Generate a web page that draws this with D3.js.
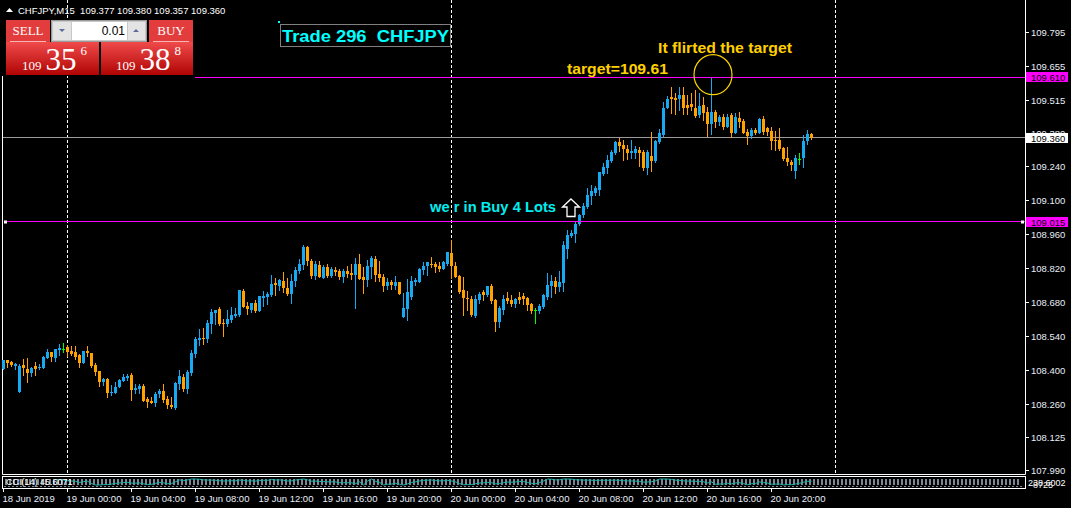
<!DOCTYPE html>
<html>
<head>
<meta charset="utf-8">
<script src="https://cdn.jsdelivr.net/npm/d3@7"></script>
<style>
  body { margin: 0; background: #000; overflow: hidden; }
  svg { display: block; }
</style>
</head>
<body>
<script>
// ---- data (CHFJPY M15) ----
const symbol = "CHFJPY";
const period = "M15";
const firstBar = new Date(2019, 5, 18, 20, 0);
const barMinutes = 15;

const openPrices = [
  108.409,108.445,108.437,108.422,108.314,108.424,108.408,108.393,108.420,108.413,
  108.412,108.454,108.478,108.454,108.486,108.492,108.498,108.483,108.478,108.465,
  108.432,108.483,108.474,108.424,108.400,108.354,108.367,108.312,108.310,108.334,
  108.360,108.369,108.383,108.320,108.327,108.338,108.286,108.277,108.269,108.303,
  108.317,108.286,108.261,108.246,108.346,108.375,108.325,108.393,108.470,108.527,
  108.537,108.533,108.595,108.639,108.655,108.597,108.592,108.611,108.628,108.630,
  108.729,108.669,108.650,108.678,108.648,108.700,108.704,108.713,108.762,108.751,
  108.770,108.743,108.717,108.772,108.812,108.836,108.911,108.853,108.791,108.836,
  108.783,108.828,108.792,108.817,108.812,108.787,108.812,108.803,108.795,108.840,
  108.787,108.775,108.828,108.861,108.799,108.787,108.750,108.766,108.750,108.766,
  108.622,108.655,108.704,108.766,108.767,108.814,108.830,108.842,108.842,108.831,
  108.819,108.842,108.886,108.833,108.790,108.735,108.702,108.698,108.625,108.691,
  108.724,108.712,108.749,108.691,108.602,108.650,108.701,108.691,108.675,108.705,
  108.708,108.700,108.675,108.650,108.647,108.664,108.705,108.750,108.770,108.746,
  108.764,108.904,108.957,108.963,109.005,109.042,109.076,109.120,109.131,109.145,
  109.213,109.234,109.266,109.299,109.344,109.329,109.316,109.296,109.299,109.312,
  109.301,109.234,109.285,109.266,109.344,109.371,109.485,109.527,109.525,109.520,
  109.536,109.495,109.498,109.485,109.454,109.495,109.465,109.419,109.465,109.426,
  109.447,109.406,109.454,109.381,109.440,109.429,109.385,109.367,109.392,109.381,
  109.436,109.399,109.389,109.351,109.351,109.319,109.275,109.261,109.224,109.272,
  109.278,109.348,109.377
];
const highPrices = [
  108.445,108.445,108.441,108.434,108.427,108.449,108.453,108.416,108.437,108.427,
  108.461,108.490,108.478,108.490,108.511,108.515,108.507,108.503,108.503,108.470,
  108.482,108.503,108.474,108.431,108.400,108.372,108.372,108.342,108.354,108.367,
  108.386,108.387,108.390,108.347,108.346,108.346,108.291,108.294,108.313,108.325,
  108.346,108.295,108.292,108.354,108.404,108.386,108.402,108.485,108.540,108.573,
  108.577,108.610,108.655,108.651,108.663,108.612,108.651,108.663,108.659,108.733,
  108.737,108.684,108.678,108.692,108.709,108.731,108.726,108.795,108.781,108.780,
  108.808,108.783,108.799,108.827,108.861,108.919,108.915,108.860,108.853,108.851,
  108.836,108.840,108.827,108.827,108.820,108.820,108.832,108.840,108.865,108.882,
  108.828,108.857,108.873,108.873,108.853,108.799,108.783,108.775,108.791,108.766,
  108.721,108.779,108.791,108.783,108.825,108.847,108.849,108.870,108.849,108.849,
  108.852,108.891,108.939,108.849,108.793,108.785,108.728,108.709,108.712,108.724,
  108.733,108.750,108.757,108.698,108.668,108.712,108.724,108.712,108.701,108.723,
  108.722,108.705,108.680,108.661,108.675,108.716,108.804,108.794,108.788,108.811,
  108.935,108.980,108.980,109.014,109.048,109.090,109.152,109.165,109.161,109.218,
  109.257,109.289,109.310,109.348,109.358,109.351,109.330,109.351,109.326,109.323,
  109.310,109.310,109.385,109.351,109.395,109.506,109.533,109.568,109.543,109.571,
  109.571,109.536,109.543,109.557,109.543,109.529,109.488,109.612,109.474,109.454,
  109.457,109.457,109.461,109.461,109.468,109.436,109.395,109.402,109.399,109.440,
  109.450,109.406,109.406,109.389,109.399,109.323,109.323,109.268,109.289,109.296,
  109.371,109.392,109.380
];
const lowPrices = [
  108.409,108.417,108.420,108.409,108.314,108.383,108.356,108.380,108.383,108.408,
  108.412,108.454,108.442,108.442,108.464,108.478,108.461,108.464,108.449,108.417,
  108.432,108.463,108.416,108.383,108.338,108.342,108.292,108.302,108.310,108.334,
  108.360,108.364,108.281,108.310,108.310,108.277,108.253,108.269,108.257,108.294,
  108.273,108.248,108.248,108.244,108.327,108.317,108.310,108.384,108.457,108.507,
  108.511,108.520,108.556,108.595,108.589,108.545,108.586,108.603,108.621,108.628,
  108.663,108.634,108.641,108.643,108.648,108.669,108.677,108.707,108.713,108.733,
  108.725,108.713,108.681,108.751,108.803,108.820,108.838,108.783,108.779,108.787,
  108.783,108.787,108.787,108.795,108.779,108.766,108.787,108.779,108.659,108.779,
  108.721,108.750,108.783,108.770,108.770,108.729,108.737,108.737,108.737,108.717,
  108.622,108.610,108.696,108.754,108.767,108.801,108.794,108.826,108.808,108.812,
  108.819,108.836,108.781,108.788,108.719,108.630,108.650,108.625,108.620,108.680,
  108.691,108.708,108.680,108.565,108.579,108.636,108.680,108.667,108.664,108.680,
  108.675,108.650,108.639,108.598,108.639,108.661,108.698,108.705,108.719,108.730,
  108.730,108.863,108.950,108.932,109.000,109.032,109.069,109.087,109.124,109.124,
  109.207,109.216,109.261,109.293,109.307,109.268,109.271,109.279,109.279,109.244,
  109.227,109.211,109.223,109.261,109.337,109.367,109.481,109.461,109.457,109.474,
  109.457,109.458,109.474,109.444,109.447,109.433,109.367,109.376,109.406,109.413,
  109.395,109.403,109.365,109.378,109.406,109.378,109.333,109.358,109.375,109.378,
  109.375,109.371,109.316,109.312,109.309,109.268,109.248,109.227,109.196,109.252,
  109.241,109.334,109.357
];
const closePrices = [
  108.445,108.432,108.424,108.430,108.420,108.411,108.391,108.411,108.408,108.416,
  108.457,108.478,108.456,108.490,108.494,108.492,108.478,108.470,108.457,108.432,
  108.482,108.475,108.419,108.397,108.356,108.367,108.309,108.314,108.334,108.362,
  108.375,108.380,108.323,108.331,108.339,108.277,108.273,108.269,108.305,108.318,
  108.281,108.259,108.253,108.351,108.379,108.325,108.397,108.474,108.531,108.536,
  108.531,108.597,108.641,108.651,108.592,108.593,108.612,108.630,108.634,108.733,
  108.665,108.656,108.678,108.645,108.709,108.709,108.717,108.758,108.754,108.776,
  108.743,108.717,108.772,108.816,108.840,108.911,108.853,108.791,108.842,108.787,
  108.828,108.792,108.819,108.809,108.787,108.812,108.799,108.795,108.840,108.779,
  108.775,108.832,108.865,108.795,108.783,108.750,108.766,108.754,108.766,108.717,
  108.659,108.725,108.770,108.775,108.819,108.833,108.847,108.836,108.826,108.819,
  108.849,108.891,108.833,108.788,108.726,108.702,108.695,108.630,108.695,108.716,
  108.712,108.749,108.689,108.602,108.660,108.695,108.687,108.675,108.695,108.691,
  108.695,108.671,108.647,108.650,108.668,108.712,108.753,108.770,108.746,108.767,
  108.918,108.959,108.969,109.005,109.042,109.079,109.124,109.141,109.152,109.218,
  109.238,109.268,109.303,109.344,109.326,109.314,109.299,109.307,109.314,109.296,
  109.234,109.303,109.264,109.347,109.378,109.485,109.522,109.520,109.516,109.536,
  109.481,109.485,109.488,109.451,109.491,109.461,109.419,109.465,109.426,109.444,
  109.406,109.444,109.381,109.444,109.426,109.381,109.367,109.392,109.378,109.436,
  109.385,109.385,109.348,109.348,109.316,109.271,109.261,109.248,109.279,109.272,
  109.348,109.375,109.360
];

const priceTicks = [109.795, 109.655, 109.515, 109.380, 109.240, 109.100, 108.960,
  108.820, 108.680, 108.540, 108.400, 108.260, 108.125, 107.990];
const targetPrice = 109.61;
const entryPrice = 109.015;
const bidPrice = 109.360;
const askPrice = 109.388;
const lotSize = "0.01";
const cciLabel = "CCI(14) 45.6071";
const entryBar = 142;
const flirtBar = 177;

// ---- layout ----
const width = 1071, height = 508;
const chartRight = 1025, chartBottom = 474;
const font = "'Liberation Sans', Arial, sans-serif";
const bullColor = "#17a9f2", bearColor = "#ffa200", dojiColor = "#00ff00";

const bars = openPrices.map((o, i) => ({
  i, o, h: highPrices[i], l: lowPrices[i], c: closePrices[i],
  t: d3.timeMinute.offset(firstBar, i * barMinutes)
}));

const x = d3.scaleLinear().domain([0, 255]).range([3.5, 3.5 + 255 * 4]);
const y = d3.scaleLinear().domain([107.975, 109.928]).range([chartBottom, 0]);
const crisp = (v) => Math.round(v - 0.5) + 0.5;

const svg = d3.select("body").append("svg")
  .attr("width", width).attr("height", height)
  .style("background", "#000");

const defs = svg.append("defs");
const grad = defs.append("linearGradient").attr("id", "redGrad")
  .attr("x1", 0).attr("y1", 0).attr("x2", 0).attr("y2", 1);
grad.append("stop").attr("offset", "0%").attr("stop-color", "#f04a4a");
grad.append("stop").attr("offset", "100%").attr("stop-color", "#b00404");

// day separators (dashed)
const daySeps = [16, 112, 208];
svg.append("g").selectAll("line").data(daySeps).enter().append("line")
  .attr("x1", (d) => crisp(x(d))).attr("x2", (d) => crisp(x(d)))
  .attr("y1", 0).attr("y2", chartBottom)
  .attr("stroke", "#fff").attr("stroke-dasharray", "3,2");

// frame
svg.append("line").attr("x1", 2.5).attr("x2", 2.5).attr("y1", 66).attr("y2", chartBottom + 0.5)
  .attr("stroke", "#fff");
svg.append("line").attr("x1", chartRight + 0.5).attr("x2", chartRight + 0.5).attr("y1", 0).attr("y2", chartBottom + 0.5)
  .attr("stroke", "#fff");
svg.append("line").attr("x1", 2.5).attr("x2", chartRight + 0.5).attr("y1", chartBottom + 0.5).attr("y2", chartBottom + 0.5)
  .attr("stroke", "#fff");

// bid line
svg.append("line").attr("x1", 3).attr("x2", chartRight)
  .attr("y1", crisp(y(bidPrice))).attr("y2", crisp(y(bidPrice)))
  .attr("stroke", "#9a9a9a");

// candles
const colorOf = (d) => d.c > d.o ? bullColor : d.c < d.o ? bearColor : dojiColor;
const candles = svg.append("g").attr("shape-rendering", "crispEdges")
  .selectAll("g").data(bars).enter().append("g");
candles.append("line")
  .attr("x1", (d) => x(d.i)).attr("x2", (d) => x(d.i))
  .attr("y1", (d) => Math.round(y(d.h))).attr("y2", (d) => Math.round(y(d.l)) + 1)
  .attr("stroke", colorOf);
candles.append("rect")
  .attr("x", (d) => x(d.i) - 1.5)
  .attr("width", 3)
  .attr("y", (d) => Math.round(y(Math.max(d.o, d.c))))
  .attr("height", (d) => Math.max(1, Math.round(y(Math.min(d.o, d.c))) - Math.round(y(Math.max(d.o, d.c)))))
  .attr("fill", colorOf);

// horizontal objects
svg.append("line").attr("x1", 195).attr("x2", chartRight)
  .attr("y1", crisp(y(targetPrice))).attr("y2", crisp(y(targetPrice)))
  .attr("stroke", "#ff00ff");
svg.append("line").attr("x1", 5).attr("x2", chartRight)
  .attr("y1", crisp(y(entryPrice))).attr("y2", crisp(y(entryPrice)))
  .attr("stroke", "#ff00ff");
svg.selectAll(".handle").data([4, 1021]).enter().append("rect")
  .attr("x", (d) => d).attr("y", Math.round(y(entryPrice)) - 1.5)
  .attr("width", 3).attr("height", 3).attr("fill", "#fff");

// annotations
svg.append("ellipse")
  .attr("cx", x(flirtBar) + 1.5).attr("cy", y(targetPrice) - 2.5)
  .attr("rx", 19).attr("ry", 20)
  .attr("fill", "none").attr("stroke", "#ffd400").attr("stroke-width", 1.2);

const label = (txt, lx, ly, size, color, len) =>
  svg.append("text").attr("x", lx).attr("y", ly)
    .attr("font-family", font).attr("font-weight", "bold")
    .attr("font-size", size).attr("fill", color)
    .attr("textLength", len).attr("lengthAdjust", "spacingAndGlyphs")
    .text(txt);

label("It flirted the target", 658, 53, 14, "#ffd000", 134);
label("target=" + targetPrice.toFixed(2), 567, 74, 14, "#ffd000", 101);
label("we r in Buy 4 Lots", 430, 212, 14, "#00eef0", 126);

// buy arrow
const ax = x(entryBar) - 0.5, ay = y(109.108);
svg.append("path")
  .attr("d", `M${ax},${ay} L${ax + 8.5},${ay + 8} L${ax + 4},${ay + 8} L${ax + 4},${ay + 17.5} L${ax - 4},${ay + 17.5} L${ax - 4},${ay + 8} L${ax - 8.5},${ay + 8} Z`)
  .attr("fill", "#000").attr("stroke", "#fff").attr("stroke-width", 1.3);

// Trade box
svg.append("rect").attr("x", 280.5).attr("y", 24.5).attr("width", 170).attr("height", 22)
  .attr("fill", "none").attr("stroke", "#808080");
svg.append("rect").attr("x", 278).attr("y", 21).attr("width", 2).attr("height", 2).attr("fill", "#00ffff");
label("Trade 296\u00a0\u00a0" + symbol, 282, 42, 16, "#00ffff", 167);

// price axis
const axisG = svg.append("g").attr("font-family", font).attr("font-size", 9.5);
axisG.selectAll("line").data(priceTicks).enter().append("line")
  .attr("x1", chartRight).attr("x2", chartRight + 4)
  .attr("y1", (d) => crisp(y(d))).attr("y2", (d) => crisp(y(d)))
  .attr("stroke", "#fff");
axisG.selectAll("text").data(priceTicks).enter().append("text")
  .attr("x", 1031).attr("y", (d) => y(d) + 3.5)
  .attr("fill", "#e8eef8").text((d) => d.toFixed(3));

const priceTag = (p, bg) => {
  const g = svg.append("g");
  g.append("rect").attr("x", 1026).attr("y", Math.round(y(p)) - 5).attr("width", 42).attr("height", 10).attr("fill", bg);
  g.append("text").attr("x", 1031).attr("y", Math.round(y(p)) + 3.5)
    .attr("font-family", font).attr("font-size", 9.5).attr("fill", "#000").text(p.toFixed(3));
};
priceTag(targetPrice, "#ff00ff");
priceTag(bidPrice, "#ffffff");
priceTag(entryPrice, "#ff00ff");

// CCI sub window
const tp = bars.map((d) => (d.h + d.l + d.c) / 3);
const cci = tp.map((v, i) => {
  if (i < 13) return null;
  const w = tp.slice(i - 13, i + 1);
  const m = d3.mean(w);
  const md = d3.mean(w, (u) => Math.abs(u - m));
  return md ? (v - m) / (0.015 * md) : 0;
});
const yc = d3.scaleLinear().domain([-200, 200]).range([485, 479]).clamp(true);
const sub = svg.append("g").attr("shape-rendering", "crispEdges");
sub.append("rect").attr("x", 2.5).attr("y", 476.5).attr("width", chartRight - 2).attr("height", 11.5)
  .attr("fill", "#000").attr("stroke", "#fff");
sub.selectAll(".lvl").data(d3.range(0, 254)).enter().append("rect")
  .attr("x", (d) => x(d) + 1).attr("y", 479).attr("width", 2).attr("height", 6)
  .attr("fill", "#7c8794");
sub.append("line").attr("x1", 4).attr("x2", chartRight - 2).attr("y1", 486.5).attr("y2", 486.5)
  .attr("stroke", "#7c8794").attr("stroke-dasharray", "2,2");
svg.append("path")
  .datum(bars.filter((d) => cci[d.i] !== null))
  .attr("d", d3.line().x((d) => x(d.i)).y((d) => yc(cci[d.i])))
  .attr("fill", "none").attr("stroke", "#20b2aa");
svg.append("text").attr("x", 6).attr("y", 485).attr("font-family", font).attr("font-size", 9)
  .attr("fill", "#fff").text(cciLabel);
svg.append("text").attr("x", 1028).attr("y", 486).attr("font-family", font).attr("font-size", 9)
  .attr("fill", "#fff").text("238.6002");
svg.append("text").attr("x", 1030).attr("y", 488).attr("font-family", font).attr("font-size", 9)
  .attr("fill", "#eee").text("-8725");

// time axis
const timeTicks = d3.range(0, bars.length, 16);
const fmtFirst = d3.timeFormat("%d %b %Y"), fmt = d3.timeFormat("%d %b %H:%M");
const tAxis = svg.append("g").attr("font-family", font).attr("font-size", 9.5);
tAxis.selectAll("line").data(timeTicks).enter().append("line")
  .attr("x1", (d) => x(d)).attr("x2", (d) => x(d))
  .attr("y1", 488).attr("y2", 492).attr("stroke", "#fff");
tAxis.selectAll("text").data(timeTicks).enter().append("text")
  .attr("x", (d) => x(d) - 1).attr("y", 502)
  .attr("fill", "#e8eef8")
  .text((d) => d === 0 ? fmtFirst(bars[d].t) : fmt(bars[d].t));

// header
const last = bars[bars.length - 1];
svg.append("path").attr("d", "M6,12 L9.5,8 L13,12 Z").attr("fill", "#fff");
svg.append("text").attr("x", 18).attr("y", 14).attr("font-family", font).attr("font-size", 9.5)
  .attr("fill", "#fff")
  .text(`${symbol},${period}\u00a0\u00a0${[last.o, last.h, last.l, last.c].map((v) => v.toFixed(3)).join(" ")}`);

// one click trading panel
const panel = svg.append("g");
panel.append("rect").attr("x", 0).attr("y", 18).attr("width", 195).attr("height", 58).attr("fill", "#000");
[[6, 20, 44, 22], [149, 20, 44, 22], [6, 42, 93, 33], [101, 42, 92, 33]].forEach(([rx, ry, rw, rh]) => {
  panel.append("rect").attr("x", rx).attr("y", ry).attr("width", rw).attr("height", rh).attr("fill", "url(#redGrad)");
});
panel.append("rect").attr("x", 6).attr("y", 20).attr("width", 44).attr("height", 22).attr("fill", "#e23c3c");
panel.append("rect").attr("x", 149).attr("y", 20).attr("width", 44).attr("height", 22).attr("fill", "#e23c3c");
panel.append("line").attr("x1", 10).attr("x2", 46).attr("y1", 41.5).attr("y2", 41.5).attr("stroke", "#f6b4b4");
panel.append("line").attr("x1", 153).attr("x2", 189).attr("y1", 41.5).attr("y2", 41.5).attr("stroke", "#f6b4b4");
const serif = "'Liberation Serif', 'Times New Roman', serif";
panel.append("text").attr("x", 28).attr("y", 35).attr("text-anchor", "middle").attr("font-family", serif)
  .attr("font-size", 13).attr("fill", "#fff").text("SELL");
panel.append("text").attr("x", 171).attr("y", 35).attr("text-anchor", "middle").attr("font-family", serif)
  .attr("font-size", 13).attr("fill", "#fff").text("BUY");

// spinner
panel.append("rect").attr("x", 51.5).attr("y", 20.5).attr("width", 95).attr("height", 21)
  .attr("fill", "#c8c8c8").attr("stroke", "#9a9a9a");
panel.append("rect").attr("x", 53).attr("y", 22).attr("width", 18).attr("height", 18).attr("fill", "#e4e4e4");
panel.append("rect").attr("x", 128).attr("y", 22).attr("width", 17).attr("height", 18).attr("fill", "#e4e4e4");
panel.append("rect").attr("x", 72).attr("y", 22).attr("width", 55).attr("height", 18).attr("fill", "#fff");
panel.append("path").attr("d", "M59,29 L65,29 L62,32 Z").attr("fill", "#5a6a9a");
panel.append("path").attr("d", "M133,32 L139,32 L136,29 Z").attr("fill", "#5a6a9a");
panel.append("text").attr("x", 125).attr("y", 35).attr("text-anchor", "end").attr("font-family", font)
  .attr("font-size", 12).attr("fill", "#000").text(lotSize);

// big prices
const bigPrice = (p, x0) => {
  const s = p.toFixed(3);
  const t = panel.append("text").attr("y", 70).attr("font-family", serif).attr("fill", "#fff");
  t.append("tspan").attr("x", x0).attr("font-size", 13).text(s.slice(0, 3));
  t.append("tspan").attr("dx", 4).attr("font-size", 31).text(s.slice(4, 6));
  t.append("tspan").attr("dx", 4).attr("dy", -15).attr("font-size", 13).text(s.slice(6));
};
bigPrice(bidPrice - 0.004, 22);
bigPrice(askPrice, 116);
</script>
</body>
</html>
